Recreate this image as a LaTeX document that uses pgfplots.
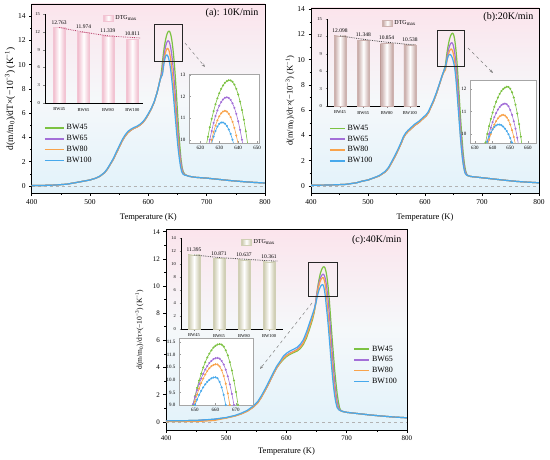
\documentclass[border=0pt]{standalone}
\usepackage{fontspec}
\setmainfont{Liberation Serif}
\usepackage{pgfplots}
\usepackage{pgfplotstable}
\pgfplotsset{compat=1.18}
\usetikzlibrary{arrows.meta}
\definecolor{cG}{HTML}{7CC242}
\definecolor{cP}{HTML}{A36FD8}
\definecolor{cO}{HTML}{F9A34B}
\definecolor{cB}{HTML}{47A9EC}
\definecolor{bgP}{HTML}{FBE4EC}
\definecolor{bgM}{HTML}{F5F8FA}
\definecolor{bgB}{HTML}{E2F2FA}
\definecolor{barA}{HTML}{F0BACB}
\definecolor{barB}{HTML}{C4A5A1}
\definecolor{barC}{HTML}{C8C6A8}
\definecolor{trA}{HTML}{B8406A}
% ---------------- panel (a) ----------------
\pgfplotstableread[row sep=\\]{x y\\400 0.05\\420 0.05\\440 0.08\\460 0.15\\480 0.32\\500 0.5\\510 0.65\\517 0.8\\525 1.1\\530 1.4\\535 1.8\\540 2.2\\545 2.7\\550 3.2\\555 3.7\\560 4.1\\565 4.4\\570 4.6\\575 4.75\\580 4.85\\585 5.0\\590 5.2\\595 5.5\\600 5.9\\605 6.35\\610 6.9\\615 7.7\\618 8.3\\620 8.75\\622 9.2\\623 9.67\\624 10.14\\625 10.58\\626 10.97\\627 11.33\\628 11.65\\629 11.92\\630 12.16\\631 12.36\\632 12.52\\633 12.64\\634 12.72\\635 12.76\\636 12.75\\637 12.69\\638 12.56\\639 12.36\\640 12.10\\641 11.77\\642 11.38\\643 10.93\\644 10.40\\645 9.82\\646 9.17\\648 7.7\\650 6.1\\652 4.6\\654 3.3\\656 2.2\\658 1.5\\660 1.15\\663 0.95\\667 0.85\\670 0.8\\680 0.72\\700 0.65\\720 0.55\\740 0.45\\760 0.37\\780 0.3\\800 0.25\\}\aG
\pgfplotstableread[row sep=\\]{x y\\400 0.05\\420 0.05\\440 0.08\\460 0.15\\480 0.32\\500 0.5\\510 0.65\\517 0.8\\525 1.1\\530 1.4\\535 1.8\\540 2.2\\545 2.7\\550 3.2\\555 3.7\\560 4.1\\565 4.4\\570 4.6\\575 4.75\\580 4.85\\585 5.0\\590 5.2\\595 5.5\\600 5.9\\605 6.35\\610 6.9\\615 7.7\\618 8.3\\620 8.75\\622 9.1\\624 9.54\\625 10.00\\626 10.41\\627 10.78\\628 11.10\\629 11.36\\630 11.58\\631 11.75\\632 11.87\\633 11.95\\634 11.97\\635 11.94\\636 11.85\\637 11.69\\638 11.48\\639 11.20\\640 10.86\\641 10.46\\642 10.00\\643 9.48\\644 8.9\\646 7.6\\648 6.2\\650 4.9\\652 3.7\\654 2.7\\656 1.9\\658 1.35\\660 1.05\\663 0.92\\667 0.85\\670 0.8\\680 0.72\\700 0.65\\720 0.55\\740 0.45\\760 0.37\\780 0.3\\800 0.25\\}\aP
\pgfplotstableread[row sep=\\]{x y\\400 0.05\\420 0.05\\440 0.08\\460 0.15\\480 0.32\\500 0.5\\510 0.65\\517 0.8\\525 1.1\\530 1.4\\535 1.8\\540 2.2\\545 2.7\\550 3.2\\555 3.7\\560 4.1\\565 4.4\\570 4.6\\575 4.75\\580 4.85\\585 5.0\\590 5.2\\595 5.5\\600 5.9\\605 6.35\\610 6.9\\615 7.7\\618 8.3\\620 8.75\\622 8.95\\624 9.25\\625 9.59\\626 10.00\\627 10.36\\628 10.66\\629 10.90\\630 11.09\\631 11.23\\632 11.31\\633 11.34\\634 11.31\\635 11.21\\636 11.05\\637 10.83\\638 10.55\\639 10.20\\640 9.79\\641 9.3\\643 8.3\\645 7.2\\647 6.0\\649 4.8\\651 3.7\\653 2.7\\655 1.9\\657 1.35\\659 1.05\\662 0.92\\667 0.85\\670 0.8\\680 0.72\\700 0.65\\720 0.55\\740 0.45\\760 0.37\\780 0.3\\800 0.25\\}\aO
\pgfplotstableread[row sep=\\]{x y\\400 0.05\\420 0.05\\440 0.08\\460 0.15\\480 0.32\\500 0.5\\510 0.65\\517 0.82\\525 1.12\\530 1.45\\535 1.85\\540 2.28\\545 2.8\\550 3.3\\555 3.8\\560 4.2\\565 4.5\\570 4.68\\575 4.82\\580 4.92\\585 5.07\\590 5.27\\595 5.57\\600 5.97\\605 6.4\\610 6.95\\615 7.7\\618 8.3\\620 8.7\\622 9.0\\624 9.15\\625 9.44\\626 9.83\\627 10.15\\628 10.41\\629 10.61\\630 10.74\\631 10.80\\632 10.80\\633 10.75\\634 10.64\\635 10.48\\636 10.27\\637 10.00\\638 9.68\\639 9.3\\641 8.4\\643 7.4\\645 6.3\\647 5.2\\649 4.1\\651 3.1\\653 2.3\\655 1.65\\657 1.2\\659 1.0\\662 0.9\\667 0.85\\670 0.8\\680 0.72\\700 0.65\\720 0.55\\740 0.45\\760 0.37\\780 0.3\\800 0.25\\}\aB
% ---------------- panel (b) ----------------
\pgfplotstableread[row sep=\\]{x y\\400 0.05\\430 0.07\\460 0.12\\480 0.25\\490 0.38\\500 0.47\\512 0.66\\520 0.8\\530 1.1\\536 1.4\\541 1.8\\547 2.3\\553 2.85\\558 3.35\\562 3.8\\566 4.1\\570 4.3\\576 4.55\\582 4.8\\590 5.05\\597 5.35\\602 5.55\\606 5.8\\610 6.2\\615 6.7\\620 7.3\\625 8.0\\630 8.7\\633 9.1\\636 9.62\\637 10.00\\638 10.35\\639 10.67\\640 10.95\\641 11.21\\642 11.43\\643 11.62\\644 11.78\\645 11.91\\646 12.00\\647 12.06\\648 12.10\\649 12.09\\650 12.01\\651 11.85\\652 11.62\\653 11.30\\654 10.91\\655 10.44\\656 9.88\\657 9.25\\659 7.9\\661 6.4\\663 5.0\\665 3.7\\667 2.6\\669 1.8\\671 1.25\\673 0.95\\676 0.8\\680 0.75\\700 0.65\\720 0.55\\740 0.45\\760 0.36\\780 0.3\\800 0.25\\}\bG
\pgfplotstableread[row sep=\\]{x y\\400 0.05\\430 0.07\\460 0.12\\480 0.25\\490 0.38\\500 0.47\\512 0.66\\520 0.8\\530 1.1\\536 1.4\\541 1.8\\547 2.3\\553 2.85\\558 3.35\\562 3.8\\566 4.1\\570 4.3\\576 4.55\\582 4.8\\590 5.05\\597 5.35\\602 5.55\\606 5.8\\610 6.2\\615 6.7\\620 7.3\\625 8.0\\630 8.7\\633 9.1\\636 9.4\\637 9.68\\638 10.00\\639 10.28\\640 10.53\\641 10.75\\642 10.93\\643 11.08\\644 11.20\\645 11.28\\646 11.33\\647 11.35\\648 11.32\\649 11.23\\650 11.07\\651 10.85\\652 10.57\\653 10.23\\654 9.83\\655 9.37\\657 8.2\\659 6.9\\661 5.5\\663 4.2\\665 3.1\\667 2.2\\669 1.5\\671 1.1\\674 0.85\\680 0.75\\700 0.65\\720 0.55\\740 0.45\\760 0.36\\780 0.3\\800 0.25\\}\bP
\pgfplotstableread[row sep=\\]{x y\\400 0.05\\430 0.07\\460 0.12\\480 0.25\\490 0.38\\500 0.47\\512 0.66\\520 0.8\\530 1.1\\536 1.4\\541 1.8\\547 2.3\\553 2.85\\558 3.35\\562 3.8\\566 4.1\\570 4.3\\576 4.55\\582 4.8\\590 5.05\\597 5.35\\602 5.55\\606 5.8\\610 6.2\\615 6.7\\620 7.3\\625 8.0\\630 8.7\\633 9.0\\636 9.2\\637 9.45\\638 9.74\\639 10.00\\640 10.23\\641 10.42\\642 10.57\\643 10.69\\644 10.78\\645 10.83\\646 10.85\\647 10.82\\648 10.74\\649 10.61\\650 10.42\\651 10.17\\652 9.87\\653 9.52\\655 8.5\\657 7.3\\659 6.0\\661 4.7\\663 3.5\\665 2.5\\667 1.75\\669 1.25\\671 0.95\\675 0.8\\680 0.75\\700 0.65\\720 0.55\\740 0.45\\760 0.36\\780 0.3\\800 0.25\\}\bO
\pgfplotstableread[row sep=\\]{x y\\400 0.05\\430 0.07\\460 0.12\\480 0.25\\490 0.38\\500 0.47\\512 0.68\\520 0.83\\530 1.15\\536 1.47\\541 1.88\\547 2.4\\553 2.95\\558 3.45\\562 3.9\\566 4.2\\570 4.4\\576 4.65\\582 4.9\\590 5.15\\597 5.45\\602 5.65\\606 5.9\\610 6.3\\615 6.8\\620 7.4\\625 8.05\\630 8.75\\633 9.1\\636 9.41\\637 9.66\\638 9.88\\639 10.06\\640 10.20\\641 10.31\\642 10.38\\643 10.42\\644 10.42\\645 10.39\\646 10.33\\647 10.24\\648 10.13\\649 9.99\\650 9.82\\651 9.62\\652 9.39\\654 8.6\\656 7.5\\658 6.3\\660 5.1\\662 3.9\\664 2.9\\666 2.05\\668 1.45\\670 1.05\\673 0.85\\680 0.75\\700 0.65\\720 0.55\\740 0.45\\760 0.36\\780 0.3\\800 0.25\\}\bB
% ---------------- panel (c) ----------------
\pgfplotstableread[row sep=\\]{x y\\400 0.07\\450 0.1\\480 0.18\\500 0.3\\515 0.45\\525 0.6\\535 0.8\\545 1.1\\552 1.4\\558 1.8\\563 2.2\\568 2.6\\573 3.05\\578 3.5\\584 4.0\\590 4.35\\595 4.6\\600 4.8\\605 4.95\\612 5.1\\618 5.22\\623 5.4\\628 5.7\\633 6.15\\638 6.8\\643 7.5\\646 8.05\\648 8.62\\649 9.00\\650 9.35\\651 9.68\\652 9.97\\653 10.24\\654 10.49\\655 10.70\\656 10.89\\657 11.04\\658 11.17\\659 11.28\\660 11.35\\661 11.40\\662 11.42\\663 11.40\\664 11.32\\665 11.17\\666 10.97\\667 10.70\\668 10.37\\669 9.97\\670 9.52\\671 9.00\\672 8.41\\674 7.2\\676 6.0\\678 4.9\\680 3.8\\682 2.9\\684 2.1\\686 1.5\\688 1.05\\690 0.85\\694 0.75\\700 0.7\\720 0.6\\740 0.5\\760 0.42\\780 0.35\\800 0.3\\}\cGt
\pgfplotstableread[row sep=\\]{x y\\400 0.07\\450 0.1\\480 0.18\\500 0.3\\515 0.45\\525 0.6\\535 0.8\\545 1.1\\552 1.4\\558 1.8\\563 2.2\\568 2.6\\573 3.05\\578 3.5\\584 4.0\\590 4.4\\595 4.7\\600 4.9\\605 5.05\\612 5.2\\618 5.35\\623 5.55\\628 5.85\\633 6.35\\638 7.0\\643 7.7\\646 8.2\\648 8.71\\649 9.03\\650 9.32\\651 9.59\\652 9.83\\653 10.05\\654 10.24\\655 10.41\\656 10.55\\657 10.67\\658 10.75\\659 10.82\\660 10.86\\661 10.87\\662 10.84\\663 10.75\\664 10.61\\665 10.40\\666 10.14\\667 9.82\\668 9.44\\669 9.00\\670 8.50\\672 7.4\\674 6.2\\676 5.0\\678 3.9\\680 2.9\\682 2.1\\684 1.5\\686 1.1\\688 0.9\\692 0.78\\700 0.7\\720 0.6\\740 0.5\\760 0.42\\780 0.35\\800 0.3\\}\cPt
\pgfplotstableread[row sep=\\]{x y\\400 0.02\\450 0.02\\480 0.1\\500 0.28\\515 0.43\\525 0.58\\535 0.78\\545 1.08\\552 1.38\\558 1.78\\563 2.18\\568 2.6\\573 3.05\\578 3.5\\584 4.0\\590 4.4\\595 4.68\\600 4.88\\605 5.02\\612 5.17\\618 5.3\\623 5.5\\628 5.8\\633 6.3\\638 6.95\\643 7.65\\646 8.15\\648 8.53\\649 8.85\\650 9.14\\651 9.41\\652 9.65\\653 9.87\\654 10.05\\655 10.21\\656 10.35\\657 10.46\\658 10.54\\659 10.59\\660 10.62\\661 10.61\\662 10.53\\663 10.38\\664 10.15\\665 9.84\\666 9.46\\667 9.00\\668 8.46\\670 7.5\\672 6.4\\674 5.2\\676 4.1\\678 3.1\\680 2.3\\682 1.65\\684 1.2\\686 0.95\\690 0.8\\700 0.7\\720 0.6\\740 0.5\\760 0.42\\780 0.35\\800 0.3\\}\cOt
\pgfplotstableread[row sep=\\]{x y\\400 0.07\\450 0.1\\480 0.2\\500 0.32\\515 0.48\\525 0.64\\535 0.85\\545 1.17\\552 1.48\\558 1.9\\563 2.3\\568 2.72\\573 3.17\\578 3.62\\584 4.12\\590 4.5\\595 4.85\\600 5.05\\605 5.2\\612 5.35\\618 5.5\\623 5.72\\628 6.05\\633 6.6\\638 7.25\\643 7.9\\646 8.3\\649 8.77\\650 9.00\\651 9.21\\652 9.40\\653 9.56\\654 9.70\\655 9.82\\656 9.92\\657 10.00\\658 10.06\\659 10.09\\660 10.10\\661 10.06\\662 9.92\\663 9.70\\664 9.40\\665 9.00\\666 8.52\\668 7.7\\670 6.7\\672 5.6\\674 4.5\\676 3.5\\678 2.6\\680 1.9\\682 1.4\\684 1.05\\687 0.88\\692 0.78\\700 0.7\\720 0.6\\740 0.5\\760 0.42\\780 0.35\\800 0.3\\}\cBt
% ---------------- bar labels ----------------
\pgfplotstableread[row sep=\\]{x y lab\\0 12.763 12.763\\1 11.974 11.974\\2 11.339 11.339\\3 10.811 10.811\\}\barsA
\pgfplotstableread[row sep=\\]{x y lab\\0 12.098 12.098\\1 11.348 11.348\\2 10.854 10.854\\3 10.538 10.538\\}\barsB
\pgfplotstableread[row sep=\\]{x y lab\\0 11.395 11.395\\1 10.871 10.871\\2 10.637 10.637\\3 10.361 10.361\\}\barsC
\pgfplotsset{
 mainax/.style={scale only axis, anchor=south west, xmin=400, xmax=800,
  xtick={400,500,600,700,800}, minor x tick num=1, ytick={0,2,...,14}, minor y tick num=1,
  tick align=outside, tick pos=left, major tick length=2.5pt, minor tick length=1.5pt,
  axis line style={line width=0.7pt}, every tick/.style={black, line width=0.6pt},
  /pgf/number format/assume math mode=true,
  tick label style={font=\fontsize{7.5}{8}\selectfont},
  xlabel={Temperature (K)}, label style={font=\fontsize{8.5}{9}\selectfont},
  axis background/.style={top color=bgP, bottom color=bgB, middle color=bgM},
  legend cell align=left, clip mode=individual},
 ml/.style={line width=1.2pt},
 zoomax/.style={scale only axis, anchor=south west, axis background/.style={fill=white},
  axis line style={gray!70, line width=0.5pt}, tick align=inside, tick pos=left,
  major tick length=1.5pt, every tick/.style={gray!80},
  tick label style={font=\fontsize{5}{5.5}\selectfont},
  /pgf/number format/assume math mode=true},
 zl/.style={line width=0.6pt, mark=*, mark size=0.7pt},
 barax/.style={scale only axis, anchor=south west, axis lines*=left,
  axis line style={line width=0.5pt}, tick align=outside, major tick length=1.5pt,
  xtick={0,1,2,3}, xticklabels={BW45,BW65,BW80,BW100},
  tick label style={font=\fontsize{4.5}{5}\selectfont},
  /pgf/number format/assume math mode=true,
  legend style={draw=none, fill=none, font=\fontsize{6}{7}\selectfont, at={(0.56,1.03)}, anchor=north west},
  legend image code/.code={\path[##1] (0pt,-3pt) rectangle (10pt,3pt);}},
 barA/.style={ybar, bar width=12pt, draw=barA!85, line width=0.2pt, left color=barA, right color=barA, middle color=white},
 barB/.style={ybar, bar width=12pt, draw=barB!85, line width=0.2pt, left color=barB, right color=barB, middle color=white},
 barC/.style={ybar, bar width=12pt, draw=barC!85, line width=0.2pt, left color=barC, right color=barC, middle color=white},
 vals/.style={draw=none, forget plot, nodes near coords, point meta=explicit symbolic,
  nodes near coords style={font=\fontsize{5.5}{6}\selectfont, inner sep=0.5pt, anchor=south, yshift=2.5pt}},
 mleg/.style={legend image code/.code={\draw[##1, line width=1.5pt] (0pt,0pt) -- (#1,0pt);}}
}
\begin{document}
\begin{tikzpicture}[x=1pt,y=1pt]
\useasboundingbox (0,0) rectangle (550,459);
% ===== (a) main =====
\begin{axis}[mainax, mleg=19pt, at={(31.7pt,265.7pt)}, width=233.3pt, height=189.3pt, ymin=-0.6, ymax=15,
  ylabel={d(m/m\textsubscript{0})/dT×(−10\textsuperscript{−3}) (K\textsuperscript{−1})},
  ylabel style={at={(axis description cs:-0.093,0.5)}, anchor=center, font=\fontsize{9.5}{10}\selectfont},
  xlabel style={at={(axis description cs:0.5,-0.125)}, anchor=center},
  legend style={at={(axis description cs:0.04,0.385)}, anchor=north west, draw=none, fill=none, font=\fontsize{8}{9}\selectfont}]
\addplot[gray!60, dashed, line width=0.6pt, forget plot] coordinates {(400,0) (800,0)};
\addplot[ml, cG] table {\aG};
\addplot[ml, cP] table {\aP};
\addplot[ml, cO] table {\aO};
\addplot[ml, cB] table {\aB};
\legend{BW45,BW65,BW80,BW100}
\draw[black!85, line width=0.8pt] (axis cs:611,10.3) rectangle (axis cs:659,13.3);
\end{axis}
\node[anchor=east, font=\fontsize{10}{11}\selectfont] at (262,445.5) {(a): 10K/min};
\draw[gray, dashed, line width=0.5pt, -{Stealth[length=3.5pt]}] (185,416) -- (205,392);
% ===== (b) main =====
\begin{axis}[mainax, mleg=15pt, at={(311pt,265.5pt)}, width=228pt, height=185.5pt, ymin=-0.6, ymax=14.1,
  ylabel={d(m/m\textsubscript{0})/dτ×(−10\textsuperscript{−3}) (K\textsuperscript{−1})},
  ylabel style={at={(axis description cs:-0.092,0.5)}, anchor=center, font=\fontsize{8.5}{9}\selectfont},
  xlabel style={at={(axis description cs:0.5,-0.127)}, anchor=center},
  legend style={at={(axis description cs:0.065,0.392)}, anchor=north west, draw=none, fill=none, font=\fontsize{8}{9}\selectfont}]
\addplot[gray!60, dashed, line width=0.6pt, forget plot] coordinates {(400,0) (800,0)};
\addplot[ml, cG] table {\bG};
\addplot[ml, cP] table {\bP};
\addplot[ml, cO] table {\bO};
\addplot[ml, cB] table {\bB};
\legend{BW45,BW65,BW80,BW100}
\draw[black!85, line width=0.8pt] (axis cs:621,9.5) rectangle (axis cs:670,12.34);
\end{axis}
\node[anchor=east, font=\fontsize{10}{11}\selectfont] at (537,442.3) {(b):20K/min};
\draw[gray, dashed, line width=0.5pt, -{Stealth[length=3.5pt]}] (468,411) -- (493,386);
% ===== (c) main =====
\begin{axis}[mainax, mleg=15pt, at={(166pt,29pt)}, width=241pt, height=201pt, ymin=-0.6, ymax=14.2,
  tick label style={font=\fontsize{7}{7.5}\selectfont},
  ylabel={d(m/m\textsubscript{0})/dτ×(−10\textsuperscript{−3}) (K\textsuperscript{−1})},
  ylabel style={at={(axis description cs:-0.11,0.5)}, anchor=center, font=\fontsize{7.5}{8}\selectfont},
  xlabel style={at={(axis description cs:0.5,-0.109)}, anchor=center},
  legend style={at={(axis description cs:0.765,0.44)}, anchor=north west, draw=none, fill=none, font=\fontsize{8}{9}\selectfont}]
\addplot[gray!60, dashed, line width=0.6pt, forget plot] coordinates {(400,0) (800,0)};
\addplot[ml, cG] table {\cGt};
\addplot[ml, cP] table {\cPt};
\addplot[ml, cO] table {\cOt};
\addplot[ml, cB] table {\cBt};
\legend{BW45,BW65,BW80,BW100}
\draw[black!85, line width=0.8pt] (axis cs:636,9.26) rectangle (axis cs:684,11.75);
\end{axis}
\node[anchor=east, font=\fontsize{10}{11}\selectfont] at (405,219) {(c):40K/min};
\draw[gray, dashed, line width=0.5pt, -{Stealth[length=3.5pt]}] (312,156) -- (260,90);
% ===== bar insets =====
\begin{axis}[barax, at={(45pt,356pt)}, width=98.3pt, height=88.7pt, xmin=-0.58, xmax=3.45, ymin=0, ymax=15, ytick={0,3,...,15}]
\addplot[barA] coordinates {(0,12.763)};
\addlegendentry{DTG\textsubscript{max}}
\addplot[barA, forget plot] coordinates {(1,11.974)};
\addplot[barA, forget plot] coordinates {(2,11.339)};
\addplot[barA, forget plot] coordinates {(3,10.811)};
\addplot[trA, densely dotted, line width=0.8pt, smooth, forget plot] coordinates {(0,12.76) (1,12.0) (2,11.38) (3,11.08) (3.33,11.0)};
\addplot[vals] table[x=x,y=y,meta=lab] {\barsA};
\end{axis}
\begin{axis}[barax, at={(327pt,353pt)}, width=93pt, height=87pt, xmin=-0.56, xmax=3.43, ymin=0, ymax=15, ytick={0,3,...,15}]
\addplot[barB] coordinates {(0,12.098)};
\addlegendentry{DTG\textsubscript{max}}
\addplot[barB, forget plot] coordinates {(1,11.348)};
\addplot[barB, forget plot] coordinates {(2,10.854)};
\addplot[barB, forget plot] coordinates {(3,10.538)};
\addplot[black!70, densely dotted, line width=0.8pt, smooth, forget plot] coordinates {(0,12.1) (1,11.5) (2,11.0) (3,10.6) (3.2,10.55)};
\addplot[vals] table[x=x,y=y,meta=lab] {\barsB};
\end{axis}
\begin{axis}[barax, at={(181pt,130pt)}, width=102pt, height=91pt, xmin=-0.52, xmax=3.56, ymin=0, ymax=14, ytick={0,2,...,14}]
\addplot[barC] coordinates {(0,11.395)};
\addlegendentry{DTG\textsubscript{max}}
\addplot[barC, forget plot] coordinates {(1,10.871)};
\addplot[barC, forget plot] coordinates {(2,10.637)};
\addplot[barC, forget plot] coordinates {(3,10.361)};
\addplot[black!70, densely dotted, line width=0.8pt, smooth, forget plot] coordinates {(0,11.4) (1,11.0) (2,10.75) (3,10.5) (3.36,10.45)};
\addplot[vals] table[x=x,y=y,meta=lab] {\barsC};
\end{axis}
% ===== zoom insets =====
\begin{axis}[zoomax, at={(189pt,316pt)}, width=70pt, height=69pt, xmin=614, xmax=651, ymin=9.85, ymax=13.05,
  xtick={620,630,640,650}, ytick={10,11,12,13}]
\addplot[zl, cG] table {\aG};
\addplot[zl, cP] table {\aP};
\addplot[zl, cO] table {\aO};
\addplot[zl, cB] table {\aB};
\end{axis}
\begin{axis}[zoomax, at={(470pt,316pt)}, width=66pt, height=63pt, xmin=627.2, xmax=664.6, ymin=9.6, ymax=12.4,
  xtick={630,640,650,660}, ytick={10,11,12}]
\addplot[zl, cG] table {\bG};
\addplot[zl, cP] table {\bP};
\addplot[zl, cO] table {\bO};
\addplot[zl, cB] table {\bB};
\end{axis}
\begin{axis}[zoomax, at={(179pt,54pt)}, width=74pt, height=67pt, xmin=642.2, xmax=678.3, ymin=9.0, ymax=11.66,
  xtick={650,660,670}, ytick={9,9.5,10,10.5,11,11.5},
  yticklabel style={/pgf/number format/.cd, fixed, fixed zerofill, precision=1}]
\addplot[zl, cG] table {\cGt};
\addplot[zl, cP] table {\cPt};
\addplot[zl, cO] table {\cOt};
\addplot[zl, cB] table {\cBt};
\end{axis}
\end{tikzpicture}
\end{document}
